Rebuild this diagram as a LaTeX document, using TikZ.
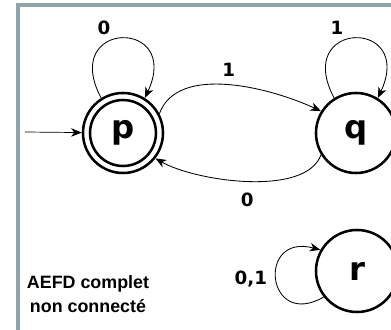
\documentclass[tikz,border=0pt]{standalone}
\usepackage{fontspec}
\setmainfont{DejaVu Sans}
\newfontfamily\notefont{Liberation Sans}
\usetikzlibrary{arrows.meta}
\definecolor{framegray}{RGB}{140,164,170}

\begin{document}
\begin{tikzpicture}[x=0.025cm,y=0.025cm,>={Stealth[length=7.5pt,width=6pt,inset=2.2pt]},
    state/.style={circle,draw,line width=1.8pt,minimum size=2cm,inner sep=0pt,
        font=\fontsize{23}{23}\selectfont\bfseries},
    trans/.style={->,line width=0.6pt},
    lbl/.style={font=\fontsize{13}{13}\selectfont\bfseries},
    frame/.style={line width=2.2pt,draw=framegray}]
            \useasboundingbox (0,0) rectangle (391,330);
            \draw[frame] (391,325) -- (18,325) -- (18,0);
            % states
            \node[state] (p) at (123,197) {p};
            \draw[line width=1.8pt] (p.center) circle[radius=33];
            \node[state] (q) at (356,197) {q};
            \node[state,minimum size=2.05cm] (r) at (357,59) {r};
            \coordinate (init) at (25,198);
            \draw[->,line width=0.5pt] (init) -- (p);
            % transitions
            \draw[trans] (p.122) to[out=118,in=65,looseness=5.2]
                node[lbl,above=3pt,pos=0.35] {0} (p.58);
            \draw[trans] (q.122) to[out=118,in=65,looseness=5.2]
                node[lbl,above=3pt,pos=0.35] {1} (q.58);
            \draw[trans] (p.28) to[out=70,in=155,looseness=0.85]
                node[lbl,above=2pt] {1} (q.148);
            \draw[trans] (q.212) to[out=250,in=-30,looseness=0.7]
                node[lbl,below=5pt] {0} (p.-38);
            \draw[trans] (r.218) to[out=210,in=165,looseness=3.6]
                node[lbl,left=3pt] {0,1} (r.150);
            \node[align=center,font=\notefont\fontsize{12.7}{17}\selectfont\bfseries]
                (note) at (88,36) {AEFD complet\\non connecté};
        \end{tikzpicture}
\end{document}
